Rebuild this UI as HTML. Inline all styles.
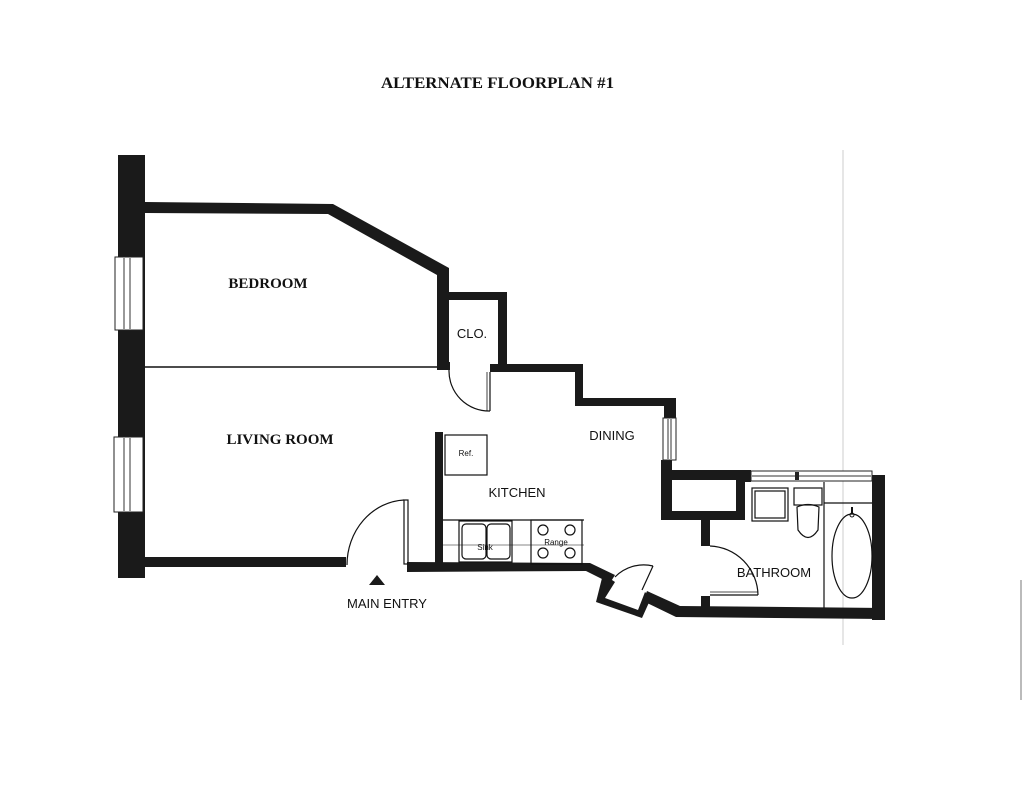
<!DOCTYPE html>
<html><head><meta charset="utf-8"><style>
html,body{margin:0;padding:0;background:#fff;}
svg{display:block}
.ser{font-family:"Liberation Serif",serif;font-weight:bold;}
.san{font-family:"Liberation Sans",sans-serif;}
</style></head><body>
<svg width="1024" height="791" viewBox="0 0 1024 791" xmlns="http://www.w3.org/2000/svg">
<rect width="1024" height="791" fill="#fff"/>
<text x="381" y="88" class="ser" font-size="16" textLength="233" lengthAdjust="spacingAndGlyphs" fill="#111">ALTERNATE FLOORPLAN #1</text>
<!-- faint guide lines -->
<line x1="843" y1="150" x2="843" y2="645" stroke="#ccc" stroke-width="1"/>
<line x1="1021" y1="580" x2="1021" y2="700" stroke="#bbb" stroke-width="2"/>
<g fill="#1a1a1a">
<!-- left wall -->
<rect x="118" y="155" width="27" height="423"/>
<!-- bedroom top wall -->
<polygon points="145,202 333,204 449,268 449,368 437,368 437,275 328,214 145,213"/>
<!-- closet -->
<polygon points="437,292 507,292 507,372 490,372 490,364 498,364 498,300 446,300 446,292"/>
<rect x="437" y="362" width="13" height="8"/>
<!-- step wall -->
<polygon points="490,364 583,364 583,398 676,398 676,418 664,418 664,406 575,406 575,372 490,372"/>
<!-- dining right wall below window -->
<rect x="661" y="460" width="11" height="60"/>
<!-- box -->
<path d="M661,470 H745 V520 H661 Z M668,480 V511 H736 V480 Z" fill-rule="evenodd"/>
<!-- bathroom left wall -->
<rect x="701" y="515" width="9" height="31"/>
<rect x="701" y="596" width="9" height="14"/>
<!-- bathroom right wall -->
<rect x="872" y="475" width="13" height="145"/>
<rect x="743" y="470" width="8" height="12"/>
<!-- bottom bath wall -->
<polygon points="647,591 680,606 885,608 885,619 676,617 643,601"/>
<!-- pocket -->
<polygon points="603,574 615,582 605,598 638,610 645,592 651,598 642,618 596,602"/>
<!-- kitchen bottom wall -->
<polygon points="407,562 590,563 615,575 610,583 586,571 407,572"/>
<!-- kitchen left wall -->
<rect x="435" y="432" width="8" height="134"/>
<!-- living bottom wall -->
<rect x="145" y="557" width="201" height="10"/>
<!-- entry triangle -->
<polygon points="377,575 369,585 385,585"/>
</g>
<!-- windows left -->
<g fill="#fff" stroke="#222" stroke-width="1">
<rect x="115" y="257" width="28" height="73"/>
<rect x="114" y="437" width="29" height="75"/>
</g>
<g stroke="#333" stroke-width="1">
<line x1="124" y1="258" x2="124" y2="329"/><line x1="130" y1="258" x2="130" y2="329"/>
<line x1="124" y1="438" x2="124" y2="511"/><line x1="130" y1="438" x2="130" y2="511"/>
</g>
<!-- dining window -->
<rect x="663" y="418" width="13" height="42" fill="#fff" stroke="#222"/>
<line x1="668" y1="419" x2="668" y2="459" stroke="#333"/><line x1="671" y1="419" x2="671" y2="459" stroke="#333"/>
<!-- bath top window -->
<rect x="751" y="471" width="121" height="10" fill="#fff" stroke="#222"/>
<line x1="752" y1="476" x2="871" y2="476" stroke="#333"/>
<rect x="795" y="472" width="4" height="8" fill="#222"/>
<!-- partition -->
<line x1="145" y1="367" x2="437" y2="367" stroke="#111" stroke-width="1.5"/>
<!-- doors -->
<g fill="none" stroke="#111" stroke-width="1.2">
<path d="M449,370 A40,40 0 0 0 490,411"/>
<line x1="490" y1="372" x2="490" y2="411"/>
<line x1="487" y1="372" x2="487" y2="411" stroke-width="0.8"/>
<path d="M347,565 A60,65 0 0 1 404,500"/>
<rect x="404" y="500" width="4" height="64"/>
<path d="M615,577 A40,40 0 0 1 653,566"/>
<line x1="653" y1="566" x2="642" y2="590"/>
<path d="M710,546 A50,50 0 0 1 758,595"/>
<line x1="710" y1="595" x2="758" y2="595"/>
<line x1="710" y1="592" x2="758" y2="592" stroke-width="0.8"/>
<!-- ref -->
<rect x="445" y="435" width="42" height="40"/>
<!-- counter -->
<line x1="443" y1="520" x2="584" y2="520"/>
<line x1="443" y1="545" x2="584" y2="545" stroke-width="0.6"/>
<rect x="459" y="521" width="53" height="41"/>
<rect x="462" y="524" width="24" height="35" rx="4"/>
<rect x="487" y="524" width="23" height="35" rx="4"/>
<rect x="531" y="520" width="51" height="44"/>
<circle cx="543" cy="530" r="5"/><circle cx="570" cy="530" r="5"/>
<circle cx="543" cy="553" r="5"/><circle cx="570" cy="553" r="5"/>
<!-- bathroom fixtures -->
<rect x="752" y="488" width="36" height="33"/>
<rect x="755" y="491" width="30" height="27"/>
<rect x="794" y="488" width="28" height="17"/>
<path d="M797,507 Q808,502 819,507 L818,530 Q808,545 798,530 Z"/>
<line x1="824" y1="482" x2="824" y2="608"/>
<line x1="824" y1="503" x2="872" y2="503"/>
<ellipse cx="852" cy="556" rx="20" ry="42"/>
</g>
<circle cx="852" cy="515" r="2" fill="none" stroke="#111"/>
<rect x="851" y="507" width="2" height="6" fill="#111"/>
<!-- labels -->
<text x="268" y="288" text-anchor="middle" class="ser" font-size="15" fill="#111">BEDROOM</text>
<text x="280" y="444" text-anchor="middle" class="ser" font-size="15" fill="#111">LIVING ROOM</text>
<g class="san" fill="#111">
<text x="472" y="338" text-anchor="middle" font-size="13">CLO.</text>
<text x="612" y="440" text-anchor="middle" font-size="13">DINING</text>
<text x="517" y="497" text-anchor="middle" font-size="13">KITCHEN</text>
<text x="774" y="577" text-anchor="middle" font-size="13">BATHROOM</text>
<text x="387" y="608" text-anchor="middle" font-size="13">MAIN ENTRY</text>
<text x="466" y="456" text-anchor="middle" font-size="8">Ref.</text>
<text x="485" y="550" text-anchor="middle" font-size="8">Sink</text>
<text x="556" y="545" text-anchor="middle" font-size="8">Range</text>
</g>
</svg>
</body></html>
